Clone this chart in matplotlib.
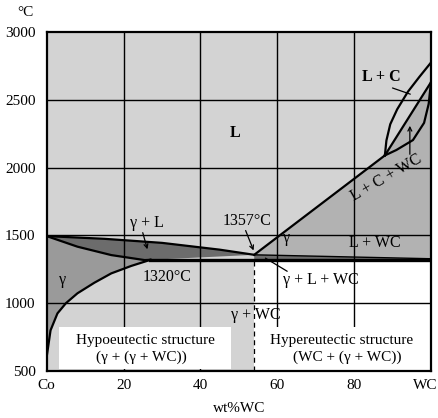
import numpy as np
import matplotlib
matplotlib.use("Agg")
import matplotlib.pyplot as plt
import matplotlib.transforms as mtransforms

# ---- phase boundary data (wt%WC, degC) ----
liq_gamma_x = [0, 15, 30, 45, 54]
liq_gamma_t = [1495, 1475, 1445, 1395, 1357]

solidus_x = [0, 8, 16.8, 25.5, 27]
solidus_t = [1495, 1417, 1355, 1318, 1320]

solvus_x = [0, 1, 2.8, 5, 8, 12.4, 16.8, 22, 27]
solvus_t = [605, 800, 925, 1000, 1073, 1151, 1220, 1275, 1320]

liq_wc_x = [54, 88]
liq_wc_t = [1357, 2090]

lens_upper_x = [88, 88.4, 89.4, 91.2, 94, 97, 100]
lens_upper_t = [2090, 2200, 2320, 2430, 2560, 2670, 2775]
lens_mid_x = [88, 100]
lens_mid_t = [2090, 2630]
lens_lower_x = [88, 91, 95.3, 98.2, 99.4, 100]
lens_lower_t = [2090, 2130, 2203, 2330, 2470, 2630]

wedge_x = [54, 100]
wedge_t = [1357, 1328]

eutectic_t = 1320
eutectic_x0 = 27
comp_eut = 54

xticks = [0, 20, 40, 60, 80, 100]
xticklabels = ["Co", "20", "40", "60", "80", "WC"]
yticks = [500, 1000, 1500, 2000, 2500, 3000]

BG = "#d3d3d3"
GAMMA = "#9a9a9a"
DARK = "#6c6c6c"
MID = "#b2b2b2"

plt.rcParams["font.family"] = ["Liberation Serif", "DejaVu Serif"]

fig = plt.figure(figsize=(4.38, 4.18), dpi=100)
ax = fig.add_axes([0.1066, 0.1124, 0.8774, 0.811])
ax.set_xlim(0, 100)
ax.set_ylim(500, 3000)
ax.set_facecolor(BG)

# gamma region (between solidus and solvus)
gx = list(solidus_x) + list(solvus_x[::-1])
gt = list(solidus_t) + list(solvus_t[::-1])
ax.fill(gx, gt, color=GAMMA, lw=0, zorder=1)

# gamma + L region
px = list(liq_gamma_x) + [eutectic_x0] + list(solidus_x[::-1])
pt = list(liq_gamma_t) + [eutectic_t] + list(solidus_t[::-1])
ax.fill(px, pt, color=DARK, lw=0, zorder=1)

# L + WC region
mx = [liq_wc_x[0], liq_wc_x[1], lens_mid_x[1], 100, wedge_x[0]]
mt = [liq_wc_t[0], liq_wc_t[1], lens_mid_t[1], wedge_t[1], wedge_t[0]]
ax.fill(mx, mt, color=MID, lw=0, zorder=1)
# lower part of the lens
ax.fill(lens_lower_x + [100], lens_lower_t + [2630], color=MID, lw=0, zorder=1)

# thin three-phase wedge
ax.fill([wedge_x[0], wedge_x[1], 100, comp_eut],
        [wedge_t[0], wedge_t[1], eutectic_t, eutectic_t], color=DARK, lw=0, zorder=1)

# hypereutectic area below eutectic line
ax.fill_between([comp_eut, 100], 500, eutectic_t, color="white", lw=0, zorder=1)

# grid
for gxv in xticks[1:-1]:
    ax.axvline(gxv, color="black", lw=1.0, zorder=2)
for gyv in yticks[1:-1]:
    ax.axhline(gyv, color="black", lw=1.0, zorder=2)

# white label boxes
ax.fill_between([3.2, 48], 515, 824, color="white", lw=0, zorder=3)
ax.fill_between([55, 100], 500, 824, color="white", lw=0, zorder=3)

# boundary lines
kw = dict(color="black", lw=1.6, zorder=4)
ax.plot(liq_gamma_x, liq_gamma_t, **kw)
ax.plot(solidus_x, solidus_t, **kw)
ax.plot(solvus_x, solvus_t, **kw)
ax.plot(liq_wc_x, liq_wc_t, **kw)
ax.plot(lens_upper_x, lens_upper_t, **kw)
ax.plot(lens_mid_x, lens_mid_t, **kw)
ax.plot(lens_lower_x, lens_lower_t, **kw)
ax.plot(wedge_x, wedge_t, color="black", lw=1.0, zorder=4)
ax.plot([eutectic_x0, 100], [eutectic_t, eutectic_t], color="black", lw=2.4, zorder=4)
ax.plot([comp_eut, comp_eut], [500, eutectic_t], color="black", lw=0.9,
        ls=(0, (4, 3)), zorder=4)

# labels
fs = 11
tk = dict(fontsize=11.5, ha="center", va="center", zorder=5)
bx = dict(fontsize=11, ha="center", va="center", zorder=5)
ax.text(49, 2255, "L", fontweight="bold", **tk)
ax.text(87, 2668, "L + C", fontweight="bold", **tk)
ax.text(88.5, 1923, "L + C + WC", rotation=30, **tk)
ax.text(26.1, 1591, "\u03b3 + L", **tk)
ax.text(4.2, 1171, "\u03b3", **tk)
ax.text(31.3, 1193, "1320\u00b0C", **tk)
ax.text(52.1, 1606, "1357\u00b0C", **tk)
ax.text(62.3, 1481, "\u03b3", **tk)
ax.text(85.4, 1444, "L + WC", **tk)
ax.text(71.4, 1171, "\u03b3 + L + WC", **tk)
ax.text(54.5, 913, "\u03b3 + WC", **tk)
ax.text(25.7, 722, "Hypoeutectic structure", **bx)
ax.text(24.7, 600, "(\u03b3 + (\u03b3 + WC))", **bx)
ax.text(76.8, 722, "Hypereutectic structure", **bx)
ax.text(78.1, 600, "(WC + (\u03b3 + WC))", **bx)

# pointer lines
lk = dict(color="black", lw=0.9, zorder=5)
ax.annotate("", xy=(95.3, 2535), xytext=(89.3, 2594),
            arrowprops=dict(arrowstyle="-", **lk))
ax.annotate("", xy=(94.5, 2329), xytext=(94.5, 2078),
            arrowprops=dict(arrowstyle="->", mutation_scale=7, **lk))
ax.annotate("", xy=(26.4, 1378), xytext=(24.8, 1540),
            arrowprops=dict(arrowstyle="->", mutation_scale=7, **lk))
ax.annotate("", xy=(54.1, 1370), xytext=(51.5, 1555),
            arrowprops=dict(arrowstyle="->", mutation_scale=7, **lk))
ax.annotate("", xy=(56.3, 1343), xytext=(63.2, 1225),
            arrowprops=dict(arrowstyle="-", **lk))

# axes styling
ax.set_xticks(xticks)
ax.set_xticklabels(xticklabels)
ax.set_yticks(yticks)
ax.tick_params(length=0, labelsize=fs, pad=6)
ax.tick_params(axis="y", pad=8)
# pull the last x label inside the canvas
wc_lab = ax.get_xticklabels()[-1]
wc_lab.set_transform(wc_lab.get_transform() +
                     mtransforms.ScaledTranslation(-6 / 100, 0, fig.dpi_scale_trans))
for s in ax.spines.values():
    s.set_linewidth(1.6)
    s.set_zorder(6)
ax.set_xlabel("wt%WC", fontsize=fs, labelpad=7)
fig.text(25 / 438, 1 - 13 / 418, "\u00b0C", fontsize=fs, ha="center", va="center")

fig.savefig("out.png", dpi=100)
